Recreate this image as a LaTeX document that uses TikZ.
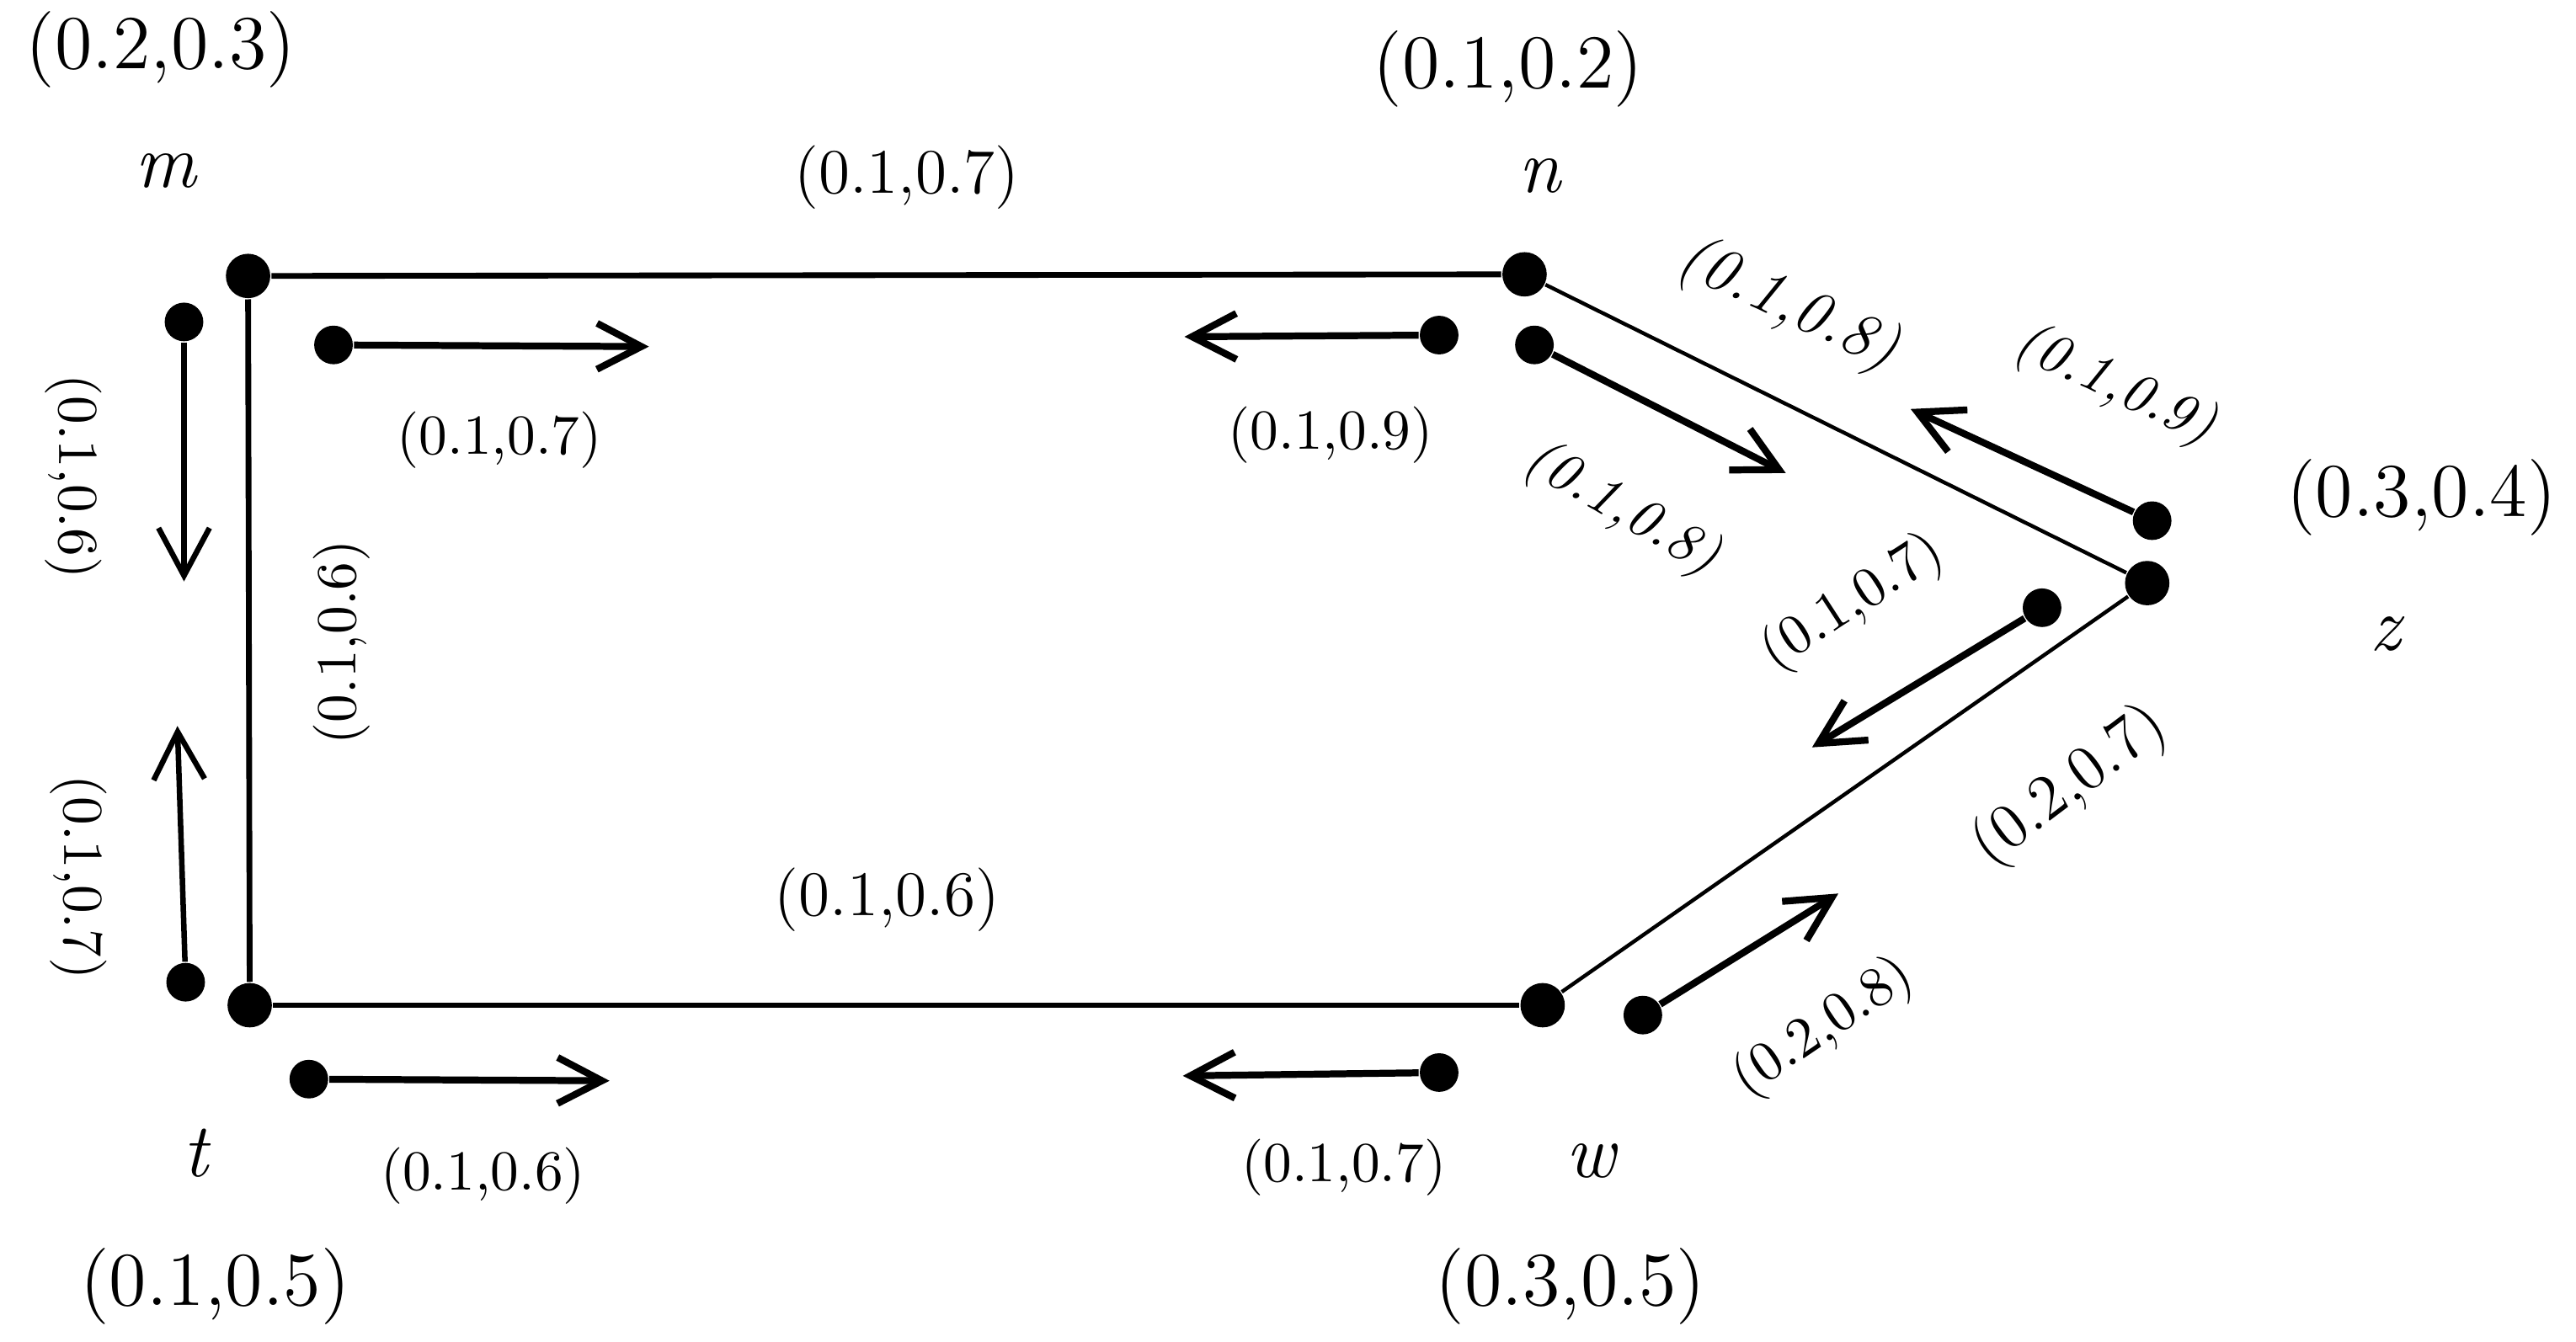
\documentclass[tikz,border=0pt]{standalone}
\usepackage{fontspec}
\usepackage{tikz}
\usetikzlibrary{positioning}
\usetikzlibrary{calc}
\usetikzlibrary{arrows.meta}
\tikzstyle{vertex} = [circle, fill=black, inner sep=0pt, minimum size=0.27cm]
\tikzstyle{dot} = [circle, fill=black, inner sep=0pt, minimum size=0.235cm]
\tikzstyle{edge} = [line width=1pt]
\tikzstyle{thinedge} = [line width=0.65pt]
\tikzstyle{arrow} = [line width=1.2pt, -{Straight Barb[length=0.27cm, width=0.28cm]}]
\tikzstyle{sidearrow} = [line width=0.95pt, -{Straight Barb[length=0.29cm, width=0.31cm]}]
\tikzstyle{biglabel} = [font=\fontsize{13.2}{15}\selectfont, inner sep=0pt]
\tikzstyle{midlabel} = [font=\fontsize{11}{12}\selectfont, inner sep=0pt]
\tikzstyle{smalllabel} = [font=\fontsize{9.8}{11}\selectfont, inner sep=0pt]

\begin{document}
\begin{tikzpicture}[x=0.01cm, y=-0.01cm]
    \useasboundingbox (0, 0) rectangle (1568, 817);

    % --- corners ---

    % m on the top left
    \node[vertex] at (151, 168) (m) {};
    \node[biglabel] at ($(m) + (-50, -64)$) (m_name) {\itshape m};
    \node[biglabel] at ($(m_name) + (-3, -74)$) (m_value) {(0.2,0.3)};

    % n on the top right
    \node[vertex] at (928, 167) (n) {};
    \node[biglabel] at ($(n) + (9, -60)$) (n_name) {\itshape n};
    \node[biglabel] at ($(n_name) + (-19, -65)$) (n_value) {(0.1,0.2)};

    % z at the tip on the right
    \node[vertex] at (1307, 355) (z) {};
    \node[biglabel] at ($(z) + (145, 31)$) (z_name) {\itshape z};
    \node[biglabel] at ($(z) + (167, -52)$) (z_value) {(0.3,0.4)};

    % w on the bottom right
    \node[vertex] at (939, 612) (w) {};
    \node[biglabel] at ($(w) + (29, 95)$) (w_name) {\itshape w};
    \node[biglabel] at ($(w_name) + (-12, 76)$) (w_value) {(0.3,0.5)};

    % t on the bottom left
    \node[vertex] at (152, 612) (t) {};
    \node[biglabel] at ($(t) + (-33, 90)$) (t_name) {\itshape t};
    \node[biglabel] at ($(t_name) + (12, 81)$) (t_value) {(0.1,0.5)};

    % --- edges ---
    \draw[edge] (m) to (n);
    \draw[edge] (m) to (t);
    \draw[edge] (t) to (w);
    \draw[thinedge] (n) to (z);
    \draw[thinedge] (w) to (z);

    % edge labels
    \node[midlabel] at (552, 108) (mn_value) {(0.1,0.7)};
    \node[midlabel] at (540, 548) (tw_value) {(0.1,0.6)};
    \node[smalllabel, rotate=90] at (208, 391) (mt_value) {(0.1,0.6)};
    \node[midlabel, rotate=-25, font=\fontsize{11}{12}\selectfont\itshape] at (1088, 186) (nz_value) {(0.1,0.8)};
    \node[midlabel, rotate=37] at (1260, 479) (wz_value) {(0.2,0.7)};

    % --- arrows along m-n ---
    \node[dot] at (203, 210) (dot_mn) {};
    \coordinate (tip_mn) at ($(dot_mn) + (192, 1)$);
    \draw[arrow] (dot_mn) to (tip_mn);
    \node[smalllabel] at ($(dot_mn) + (101, 58)$) (lab_mn) {(0.1,0.7)};

    \node[dot] at (876, 204) (dot_nm) {};
    \coordinate (tip_nm) at ($(dot_nm) + (-155, 1)$);
    \draw[arrow] (dot_nm) to (tip_nm);
    \node[smalllabel] at ($(dot_nm) + (-66, 61)$) (lab_nm) {(0.1,0.9)};

    % --- arrows along m-t ---
    \node[dot] at (112, 196) (dot_mt) {};
    \coordinate (tip_mt) at ($(dot_mt) + (0, 158)$);
    \draw[sidearrow] (dot_mt) to (tip_mt);
    \node[smalllabel, rotate=-90] at (45, 290) (lab_mt) {(0.1,0.6)};

    \node[dot] at (113, 598) (dot_tm) {};
    \coordinate (tip_tm) at ($(dot_tm) + (-5, -156)$);
    \draw[sidearrow] (dot_tm) to (tip_tm);
    \node[smalllabel, rotate=-90] at (48, 534) (lab_tm) {(0.1,0.7)};

    % --- arrows along t-w ---
    \node[dot] at (188, 657) (dot_tw) {};
    \coordinate (tip_tw) at ($(dot_tw) + (183, 1)$);
    \draw[arrow] (dot_tw) to (tip_tw);
    \node[smalllabel] at ($(dot_tw) + (106, 59)$) (lab_tw) {(0.1,0.6)};

    \node[dot] at (876, 653) (dot_wt) {};
    \coordinate (tip_wt) at ($(dot_wt) + (-156, 2)$);
    \draw[arrow] (dot_wt) to (tip_wt);
    \node[smalllabel] at ($(dot_wt) + (-58, 58)$) (lab_wt) {(0.1,0.7)};

    % --- arrows along n-z ---
    \node[dot] at (934, 210) (dot_nz) {};
    \coordinate (tip_nz) at ($(dot_nz) + (153, 78)$);
    \draw[arrow] (dot_nz) to (tip_nz);
    \node[smalllabel, rotate=-30, font=\fontsize{9.8}{11}\selectfont\itshape] at (987, 310) (lab_nz) {(0.1,0.8)};

    \node[dot] at (1310, 317) (dot_zn) {};
    \coordinate (tip_zn) at ($(dot_zn) + (-147, -68)$);
    \draw[arrow] (dot_zn) to (tip_zn);
    \node[smalllabel, rotate=-25, font=\fontsize{9.8}{11}\selectfont\itshape] at (1287, 235) (lab_zn) {(0.1,0.9)};

    % --- arrows along w-z ---
    \node[dot] at (1243, 370) (dot_zw) {};
    \coordinate (tip_zw) at ($(dot_zw) + (-140, 85)$);
    \draw[arrow] (dot_zw) to (tip_zw);
    \node[smalllabel, rotate=33] at (1128, 367) (lab_zw) {(0.1,0.7)};

    \node[dot] at (1000, 618) (dot_wz) {};
    \coordinate (tip_wz) at ($(dot_wz) + (119, -74)$);
    \draw[arrow] (dot_wz) to (tip_wz);
    \node[smalllabel, rotate=34] at (1110, 626) (lab_wz) {(0.2,0.8)};

\end{tikzpicture}
\end{document}
